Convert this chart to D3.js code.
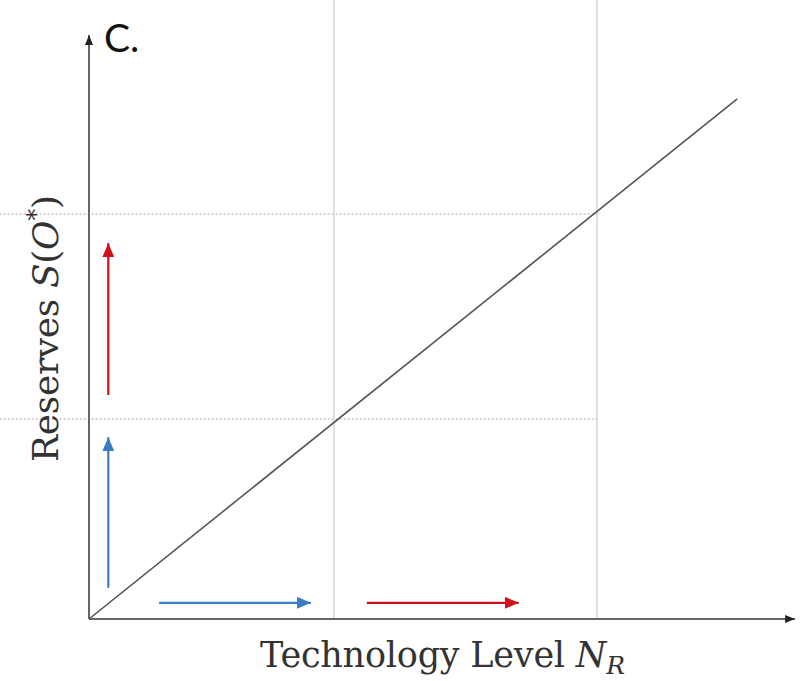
<!DOCTYPE html>
<html><head><meta charset="utf-8">
<script src="https://cdn.jsdelivr.net/npm/d3@7"></script>
<style>html,body{margin:0;padding:0;background:#fff;}svg{display:block;}</style>
</head><body>
<svg id="c" width="802" height="681"></svg>
<script>
// Data (abstract units)
const gridX = [4.82, 10];          // vertical reference lines
const gridY = [4.94, 10];          // horizontal dotted reference lines
const lineData = [[0, 0], [12.76, 12.84]];
const axisEnd = {x: 13.9, y: 14.42};
const arrows = [
  {from: [0.38, 5.53], to: [0.38, 9.28], color: "#d0101a"},
  {from: [0.38, 0.77], to: [0.38, 4.49], color: "#3b7cc4"},
  {from: [1.38, 0.40], to: [4.37, 0.40], color: "#3b7cc4"},
  {from: [5.47, 0.40], to: [8.46, 0.40], color: "#d0101a"}
];
const panelLabel = "C.";
const xLabel = ["Technology Level ", "N", "R"];
const yLabel = ["Reserves ", "S", "(", "O", "*", ")"];

const svg = d3.select("#c");
const x = d3.scaleLinear().domain([0, 10]).range([89, 597]);
const y = d3.scaleLinear().domain([0, 10]).range([619, 214]);

const defs = svg.append("defs");
function marker(id, color, w, h) {
  defs.append("marker").attr("id", id).attr("viewBox", `0 0 ${w} ${h}`)
    .attr("refX", w).attr("refY", h / 2).attr("markerWidth", w).attr("markerHeight", h)
    .attr("markerUnits", "userSpaceOnUse").attr("orient", "auto")
    .append("path").attr("d", `M0,0L${w},${h/2}L0,${h}Z`).attr("fill", color);
}
marker("axArrow", "#222", 10, 8);
const colors = [...new Set(arrows.map(a => a.color))];
colors.forEach((c, i) => marker("arr" + i, c, 14, 12));

// vertical gray lines
svg.selectAll(".vg").data(gridX).join("line")
  .attr("x1", d => x(d)).attr("x2", d => x(d))
  .attr("y1", y(15.3)).attr("y2", y(0))
  .attr("stroke", "#d6d6d6").attr("stroke-width", 1.5);

// horizontal dotted lines
svg.selectAll(".hg").data(gridY).join("line")
  .attr("x1", x(-1.76)).attr("x2", x(10))
  .attr("y1", d => y(d)).attr("y2", d => y(d))
  .attr("stroke", "#c4c4c4").attr("stroke-width", 1.5).attr("stroke-dasharray", "2,2");

// axes
svg.append("line").attr("x1", x(0)).attr("y1", y(0)).attr("x2", x(axisEnd.x)).attr("y2", y(0))
  .attr("stroke", "#666").attr("stroke-width", 2).attr("marker-end", "url(#axArrow)");
svg.append("line").attr("x1", x(0)).attr("y1", y(0)).attr("x2", x(0)).attr("y2", y(axisEnd.y))
  .attr("stroke", "#666").attr("stroke-width", 2).attr("marker-end", "url(#axArrow)");

// diagonal line
svg.append("path").datum(lineData)
  .attr("d", d3.line().x(d => x(d[0])).y(d => y(d[1])))
  .attr("fill", "none").attr("stroke", "#555").attr("stroke-width", 1.6);

// arrows
svg.selectAll(".ar").data(arrows).join("line")
  .attr("x1", d => x(d.from[0])).attr("y1", d => y(d.from[1]))
  .attr("x2", d => x(d.to[0])).attr("y2", d => y(d.to[1]))
  .attr("stroke", d => d.color).attr("stroke-width", 2.2)
  .attr("marker-end", d => `url(#arr${colors.indexOf(d.color)})`);

// panel label
svg.append("text").attr("x", 104).attr("y", 52).text(panelLabel)
  .attr("font-family", "Lato, Open Sans, sans-serif").attr("font-size", 39).attr("fill", "#111");

// x label
const xt = svg.append("text").attr("x", 260).attr("y", 667)
  .attr("textLength", 365).attr("lengthAdjust", "spacing")
  .attr("font-family", "DejaVu Serif, serif").attr("font-size", 35).attr("fill", "#333");
xt.append("tspan").text(xLabel[0]);
xt.append("tspan").text(xLabel[1]).attr("font-style", "italic");
xt.append("tspan").text(xLabel[2]).attr("font-style", "italic").attr("font-size", 25).attr("dy", 7);

// y label
const yt = svg.append("text").attr("transform", "translate(58,462) rotate(-90)")
  .attr("textLength", 267).attr("lengthAdjust", "spacing")
  .attr("font-family", "DejaVu Serif, serif").attr("font-size", 36).attr("fill", "#333");
yt.append("tspan").text(yLabel[0]);
yt.append("tspan").text(yLabel[1]).attr("font-style", "italic");
yt.append("tspan").text(yLabel[2]);
yt.append("tspan").text(yLabel[3]).attr("font-style", "italic");
yt.append("tspan").text(yLabel[4]).attr("font-size", 24).attr("dy", -14);
yt.append("tspan").text(yLabel[5]).attr("dy", 14);
</script>
</body></html>
